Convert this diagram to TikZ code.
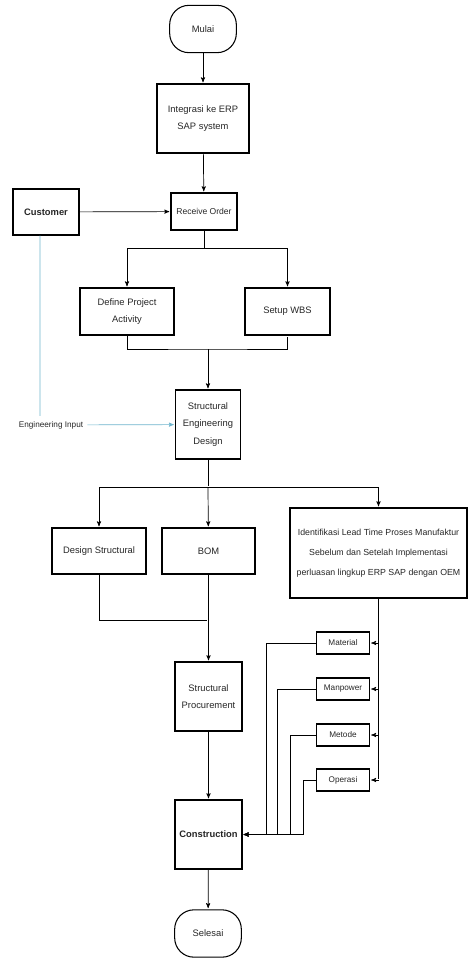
\documentclass[tikz,border=0pt]{standalone}
\usepackage{fontspec}
\setmainfont{Liberation Sans}
\usetikzlibrary{arrows}
\definecolor{inputblue}{RGB}{110,180,205}

\begin{document}
\begin{tikzpicture}[->,>=stealth',shorten >=1pt,x=0.03cm,y=-0.03cm,
                    semithick]
  \tikzstyle{every node}=[font=\fontsize{8}{15}\selectfont,text=black!85]
  \tikzstyle{box}=[draw=black,line width=0.9pt,align=center,inner sep=2pt]
  \tikzstyle{terminal}=[box,rounded corners=0.58cm,minimum width=2.0cm,minimum height=1.42cm]
  \tikzstyle{factor}=[box,minimum width=1.59cm,minimum height=0.66cm,font=\fontsize{7}{9}\selectfont]

  \useasboundingbox (0,0) rectangle (468,959);

  \node[terminal] (mulai) at (203,29) {Mulai};
  \node[box,minimum width=2.76cm,minimum height=2.07cm] (integ) at (203,118.5) {Integrasi ke ERP\\SAP system};
  \node[box,minimum width=1.98cm,minimum height=1.11cm,font=\fontsize{7.3}{9}\selectfont] (recv) at (204,211.5) {Receive Order};
  \node[box,minimum width=1.98cm,minimum height=1.38cm] (cust) at (46,212) {\textbf{Customer}};
  \node[box,minimum width=2.82cm,minimum height=1.41cm] (dpa) at (127,311.5) {Define Project\\Activity};
  \node[box,minimum width=2.55cm,minimum height=1.41cm] (wbs) at (287.5,311.5) {Setup WBS};
  \node[font=\fontsize{7}{9}\selectfont] (einput) at (51,425) {Engineering Input};
  \node[box,minimum width=1.95cm,minimum height=2.07cm] (sed) at (208,424.5) {Structural\\Engineering\\Design};
  \node[box,minimum width=2.82cm,minimum height=1.38cm] (ds) at (99,551) {Design Structural};
  \node[box,minimum width=2.79cm,minimum height=1.38cm] (bom) at (208.5,551) {BOM};
  \node[box,minimum width=5.31cm,minimum height=2.7cm,font=\fontsize{7.5}{17}\selectfont] (idf) at (378.5,553)
       {Identifikasi Lead Time Proses Manufaktur\\Sebelum dan Setelah Implementasi\\perluasan lingkup ERP SAP dengan OEM};
  \node[box,minimum width=2.01cm,minimum height=2.07cm] (sp) at (208.5,696.5) {Structural\\Procurement};
  \node[box,minimum width=2.01cm,minimum height=2.07cm] (con) at (208.5,834.5) {\textbf{Construction}};
  \node[terminal] (sel) at (208,933.5) {Selesai};

  \node[factor] (mat) at (343,643) {Material};
  \node[factor] (man) at (343,689) {Manpower};
  \node[factor] (met) at (343,735) {Metode};
  \node[factor] (opr) at (343,780) {Operasi};

  \coordinate (j1) at (208,349);
  \coordinate (j2) at (208,487);
  \coordinate (j3) at (208,620);
  \coordinate (j4) at (idf.south |- opr.east);

  % main flow
  \draw (mulai) -- (integ);
  \draw (integ) -- (recv);
  \draw (cust) -- (recv);
  \draw (recv.south) -- ++(0,18) -| (dpa);
  \draw (recv.south) -- ++(0,18) -| (wbs);
  \draw[-] (dpa.south) |- (j1) -| (wbs.south);
  \draw (j1) -- (sed);
  \draw[-,inputblue] ([xshift=-0.18cm]cust.south) -- ([xshift=-0.33cm]einput.north);
  \draw[inputblue] (einput) -- (sed);
  \draw[-] (sed) -- (j2);
  \draw (j2) -| (ds);
  \draw (j2) -- (bom);
  \draw (j2) -| (idf);
  \draw[-] (ds.south) |- (j3);
  \draw (bom) -- (sp);
  \draw (sp) -- (con);
  \draw (con) -- (sel);

  % faktor
  \draw[-] (idf) -- (j4);
  \foreach \f in {mat,man,met,opr}
    \draw (idf.south |- \f.east) -- (\f);
  \draw (mat.west) -- ++(-50,0) |- (con.east);
  \draw (man.west) -- ++(-39,0) |- (con.east);
  \draw (met.west) -- ++(-26,0) |- (con.east);
  \draw (opr.west) -- ++(-13,0) |- (con.east);
\end{tikzpicture}
\end{document}
